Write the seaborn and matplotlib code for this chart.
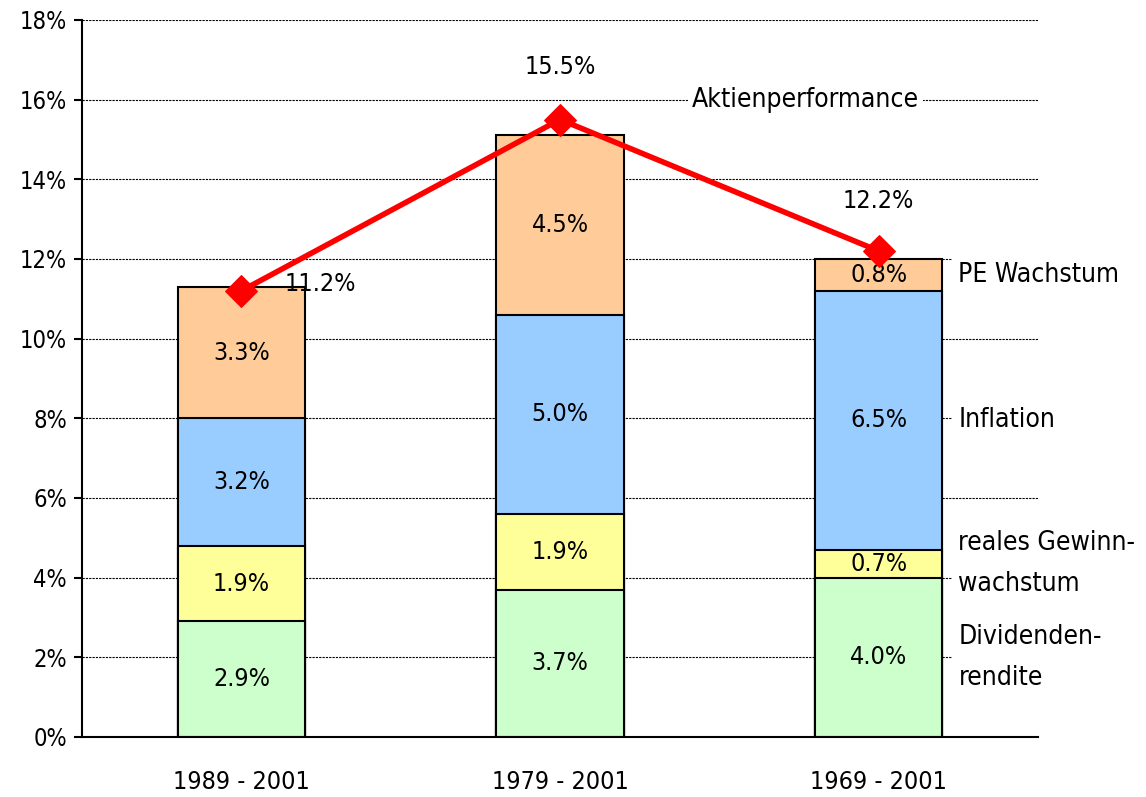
import numpy as np
import pandas as pd
import matplotlib
matplotlib.use('Agg')
import matplotlib.pyplot as plt
import seaborn as sns

sns.set_style('white')
plt.rcParams['font.family'] = ['DejaVu Sans']
plt.rcParams['font.stretch'] = 'condensed'
plt.rcParams['text.color'] = 'black'
plt.rcParams['xtick.color'] = 'black'
plt.rcParams['ytick.color'] = 'black'

periods = ['1989 - 2001', '1979 - 2001', '1969 - 2001']
dividende = [2.9, 3.7, 4.0]
gewinn = [1.9, 1.9, 0.7]
inflation = [3.2, 5.0, 6.5]
pe_wachstum = [3.3, 4.5, 0.8]
aktien = [11.2, 15.5, 12.2]

segment_names = ['Dividenden-\nrendite', 'reales Gewinn-\nwachstum', 'Inflation', 'PE Wachstum']
segment_colors = ['#CCFFCC', '#FFFF99', '#99CCFF', '#FFCC99']

df = pd.DataFrame({'period': periods,
                   'div': dividende,
                   'gew': gewinn,
                   'inf': inflation,
                   'pe': pe_wachstum})
layers = ['div', 'gew', 'inf', 'pe']
cum = df[layers].cumsum(axis=1)

fs_val = 18
fs_lab = 19
fig = plt.figure(figsize=(11.46, 7.97), dpi=100)
ax = fig.add_axes([0.0716, 0.0753, 0.8342, 0.8997])

# stacked bars: draw cumulative totals from top layer downwards
for layer, color in reversed(list(zip(layers, segment_colors))):
    sns.barplot(x=df['period'], y=cum[layer], color=color, saturation=1,
                width=0.4, edgecolor='black', linewidth=1.5, ax=ax, zorder=2)

# segment labels
pos = np.arange(len(periods))
for i in pos:
    bottom = 0
    for layer in layers:
        v = df.loc[i, layer]
        ax.text(i, bottom + v / 2, '{:.1f}%'.format(v), ha='center', va='center',
                fontsize=fs_val, zorder=4)
        bottom += v

# Aktienperformance line
sns.lineplot(x=pos, y=aktien, color='#FF0000', linewidth=4, marker='D',
             markersize=16, markeredgecolor='#FF0000', ax=ax, zorder=5)
offsets = [(57, 5), (0, 38), (0, 36)]
for i, (v, off) in enumerate(zip(aktien, offsets)):
    ax.annotate('{:.1f}%'.format(v), (i, v), xytext=off, textcoords='offset points',
                ha='center', va='center', fontsize=fs_val, zorder=6)

ax.text(1.77, 16, 'Aktienperformance', ha='center', va='center', fontsize=fs_lab,
        bbox=dict(facecolor='white', edgecolor='none', pad=3), zorder=3)

# segment names next to the last bar
last = len(periods) - 1
bottom = 0
for layer, name in zip(layers, segment_names):
    v = df.loc[last, layer]
    ax.text(last + 0.25, bottom + v / 2, name, ha='left', va='center', fontsize=fs_lab,
            linespacing=1.75,
            bbox=dict(facecolor='white', edgecolor='none', boxstyle='square,pad=0.25'),
            zorder=3)
    bottom += v

# axes styling
ax.set_xlim(-0.5, len(periods) - 0.5)
ax.set_ylim(0, 18)
ax.set_yticks(np.arange(0, 19, 2))
ax.set_yticklabels(['{}%'.format(t) for t in range(0, 19, 2)], fontsize=17)
ax.set_xticks(pos)
ax.set_xticklabels(periods, fontsize=18)
ax.set_xticks(np.arange(-0.5, len(periods)), minor=True)
ax.tick_params(axis='x', which='major', length=0, pad=24)
ax.tick_params(axis='x', which='minor', length=6, width=1.5, direction='out', color='black')
ax.tick_params(axis='y', length=6, width=1.5, pad=5, direction='out', color='black', left=True)
ax.set_xlabel('')
ax.set_ylabel('')
ax.grid(axis='y', color='black', linestyle=(0, (2, 1)), linewidth=0.8, zorder=0.5)
ax.set_axisbelow(True)
for s in ['top', 'right']:
    ax.spines[s].set_visible(False)
for s in ['left', 'bottom']:
    ax.spines[s].set_color('black')
    ax.spines[s].set_linewidth(1.5)

fig.savefig('out.png', dpi=100)
